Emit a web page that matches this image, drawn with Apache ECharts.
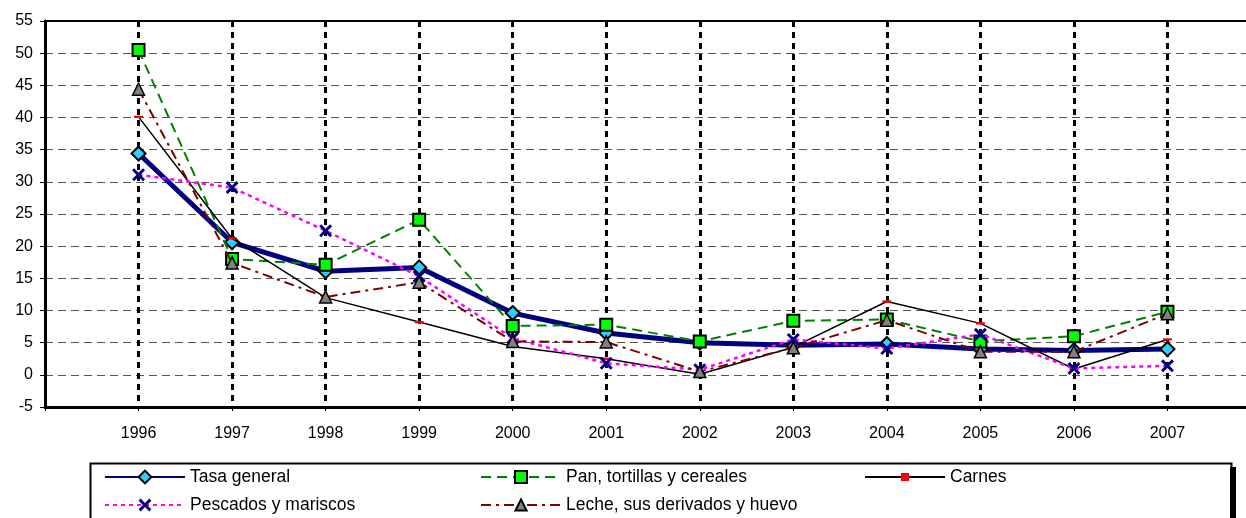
<!DOCTYPE html>
<html>
<head>
<meta charset="utf-8">
<script src="https://cdn.jsdelivr.net/npm/echarts@6/dist/echarts.min.js"></script>
<style>
html,body{margin:0;padding:0;background:#fff;}
#c{width:1246px;height:518px;}
</style>
</head>
<body>
<div id="c"></div>
<script>
const years = [1996, 1997, 1998, 1999, 2000, 2001, 2002, 2003, 2004, 2005, 2006, 2007];
const tasaGeneral = [34.4, 20.6, 16.1, 16.7, 9.6, 6.5, 5.0, 4.6, 4.8, 4.0, 3.8, 4.0];
const panTortillas = [50.5, 18.0, 17.1, 24.1, 7.6, 7.8, 5.2, 8.4, 8.6, 5.2, 6.0, 9.8];
const carnes = [40.1, 21.2, 12.0, 8.2, 4.4, 2.5, 0.1, 4.3, 11.4, 8.0, 0.9, 5.5];
const pescados = [31.1, 29.1, 22.4, 15.3, 5.7, 1.8, 0.8, 5.5, 4.1, 6.3, 1.0, 1.4];
const leche = [44.4, 17.4, 12.1, 14.4, 5.2, 5.1, 0.5, 4.2, 8.5, 3.6, 3.6, 9.5];
const seriesNames = ['Tasa general', 'Pan, tortillas y cereales', 'Carnes', 'Pescados y mariscos', 'Leche, sus derivados y huevo'];

const FONT = 'Liberation Sans, Arial, sans-serif';
const pair = arr => years.map((y, i) => [y, arr[i]]);
const X_PATH = 'path://M0,1.6 L1.6,0 L5,3.4 L8.4,0 L10,1.6 L6.6,5 L10,8.4 L8.4,10 L5,6.6 L1.6,10 L0,8.4 L3.4,5 Z';
const BAR_PATH = 'path://M0,0 L10,0 L10,5 L0,5 Z';

const chart = echarts.init(document.getElementById('c'), null, {renderer: 'canvas'});

function legendAt(name, left, centerY, ih) {
  return {
    data: [name], left: left, top: centerY - ih / 2, orient: 'horizontal',
    itemWidth: 80, itemHeight: ih, padding: 0,
    textStyle: {fontFamily: FONT, fontSize: 17.5, color: '#000'},
    selectedMode: false
  };
}

chart.setOption({
  animation: false,
  backgroundColor: '#fff',
  grid: {left: 45, top: 21, width: 1216, bottom: 111, outerBoundsMode: 'none', containLabel: false,
         show: true, borderColor: '#000', borderWidth: 2, backgroundColor: 'transparent'},
  xAxis: {
    type: 'value', min: 1995, max: 2008, interval: 1,
    axisLine: {show: true, onZero: false, lineStyle: {color: '#000', width: 3}},
    axisTick: {show: true, length: 4, lineStyle: {color: '#000', width: 1}},
    axisLabel: {
      fontFamily: FONT, fontSize: 16, color: '#000', margin: 19,
      formatter: v => (v >= years[0] && v <= years[years.length - 1]) ? String(v) : ''
    },
    splitLine: {show: true, showMinLine: false, showMaxLine: false, lineStyle: {color: '#000', width: 3, type: [6, 5]}}
  },
  yAxis: {
    type: 'value', min: -5, max: 55, interval: 5,
    axisLine: {show: true, onZero: false, lineStyle: {color: '#000', width: 3}},
    axisTick: {show: true, length: 5, lineStyle: {color: '#000', width: 1}},
    axisLabel: {fontFamily: FONT, fontSize: 16, color: '#000', margin: 12},
    splitLine: {show: true, showMinLine: false, showMaxLine: false, lineStyle: {color: '#555', width: 1, type: [8, 5]}}
  },
  legend: [
    legendAt(seriesNames[0], 104, 476, 16),
    legendAt(seriesNames[1], 480, 475.5, 15),
    legendAt(seriesNames[2], 864, 473, 10),
    legendAt(seriesNames[3], 104, 504, 16),
    legendAt(seriesNames[4], 480, 503, 14)
  ],
  graphic: [
    {type: 'rect', left: 1230, top: 467, shape: {width: 6, height: 60}, style: {fill: '#000'}, z: 100},
    {type: 'rect', left: 88, top: 461, shape: {width: 1141, height: 70}, style: {fill: 'none', stroke: '#000', lineWidth: 2}, z: 100}
  ],
  series: [
    {
      name: seriesNames[0], type: 'line', data: pair(tasaGeneral),
      lineStyle: {color: '#000080', width: 5},
      symbol: 'diamond', symbolSize: 14,
      itemStyle: {color: '#33CCFF', borderColor: '#000', borderWidth: 2},
      z: 2
    },
    {
      name: seriesNames[1], type: 'line', data: pair(panTortillas),
      lineStyle: {color: '#008000', width: 2, type: [10, 6]},
      symbol: 'rect', symbolSize: 12,
      itemStyle: {color: '#00FF00', borderColor: '#000', borderWidth: 2},
      z: 3
    },
    {
      name: seriesNames[2], type: 'line', data: pair(carnes),
      lineStyle: {color: '#000', width: 1.5},
      symbol: BAR_PATH, symbolSize: [9, 4.5], symbolKeepAspect: true,
      itemStyle: {color: '#FF0000', borderWidth: 0},
      z: 4
    },
    {
      name: seriesNames[3], type: 'line', data: pair(pescados),
      lineStyle: {color: '#FF00FF', width: 2.5, type: [4, 4]},
      symbol: X_PATH, symbolSize: 13,
      itemStyle: {color: '#000080', borderWidth: 0},
      z: 5
    },
    {
      name: seriesNames[4], type: 'line', data: pair(leche),
      lineStyle: {color: '#800000', width: 2, type: [10, 5, 3, 5]},
      symbol: 'triangle', symbolSize: 12,
      itemStyle: {color: '#808080', borderColor: '#000', borderWidth: 1.5},
      z: 6
    }
  ]
});
</script>
</body>
</html>
